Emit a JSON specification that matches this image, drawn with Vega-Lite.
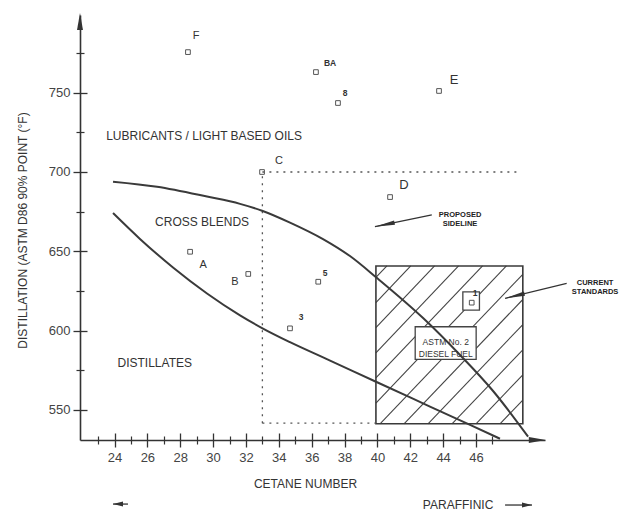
{
  "$schema": "https://vega.github.io/schema/vega-lite/v6.json",
  "width": 465,
  "height": 425,
  "autosize": "none",
  "padding": {"left": 80, "top": 15, "right": 76, "bottom": 72},
  "background": "white",
  "config": {
    "view": {"stroke": null},
    "font": "Liberation Sans",
    "axis": {"grid": false, "labelFont": "Liberation Sans", "titleFont": "Liberation Sans"},
    "text": {"font": "Liberation Sans", "color": "#333"}
  },
  "resolve": {"axis": {"x": "independent", "y": "independent"}},
  "datasets": {
    "hatch": [
      {"x": 39.91, "y": 633.5, "x2": 40.58, "y2": 640.75},
      {"x": 39.91, "y": 617.7, "x2": 42.03, "y2": 640.75},
      {"x": 39.91, "y": 601.8, "x2": 43.48, "y2": 640.75},
      {"x": 39.91, "y": 586.0, "x2": 44.94, "y2": 640.75},
      {"x": 39.91, "y": 570.1, "x2": 46.40, "y2": 640.75},
      {"x": 39.91, "y": 554.3, "x2": 47.85, "y2": 640.75},
      {"x": 40.16, "y": 541.2, "x2": 48.85, "y2": 635.5},
      {"x": 41.62, "y": 541.2, "x2": 48.85, "y2": 619.6},
      {"x": 43.08, "y": 541.2, "x2": 48.85, "y2": 603.8},
      {"x": 44.54, "y": 541.2, "x2": 48.85, "y2": 587.9},
      {"x": 46.00, "y": 541.2, "x2": 48.85, "y2": 572.1},
      {"x": 47.46, "y": 541.2, "x2": 48.85, "y2": 556.2}
    ],
    "boxes": [
      {"name": "standards", "x": 39.91, "x2": 48.85, "y": 541.2, "y2": 640.75},
      {"name": "astm", "x": 42.30, "x2": 46.01, "y": 581.9, "y2": 602.4},
      {"name": "fuel1", "x": 45.20, "x2": 46.21, "y": 612.9, "y2": 624.4}
    ],
    "guides": [
      {"x": 33, "y": 541.6, "x2": 33, "y2": 700},
      {"x": 33, "y": 700, "x2": 48.7, "y2": 700},
      {"x": 33, "y": 541.6, "x2": 39.9, "y2": 541.6}
    ],
    "curves": [
      {"curve": "upper", "x": 23.91, "y": 693.9},
      {"curve": "upper", "x": 26.59, "y": 690.7},
      {"curve": "upper", "x": 29.63, "y": 684.5},
      {"curve": "upper", "x": 31.64, "y": 679.9},
      {"curve": "upper", "x": 32.98, "y": 675.6},
      {"curve": "upper", "x": 34.68, "y": 668.1},
      {"curve": "upper", "x": 36.69, "y": 657.7},
      {"curve": "upper", "x": 38.33, "y": 647.0},
      {"curve": "upper", "x": 39.98, "y": 633.1},
      {"curve": "upper", "x": 42.78, "y": 607.9},
      {"curve": "upper", "x": 45.03, "y": 584.6},
      {"curve": "upper", "x": 47.04, "y": 561.9},
      {"curve": "upper", "x": 49.17, "y": 533.1},
      {"curve": "lower", "x": 23.91, "y": 674.1},
      {"curve": "lower", "x": 25.55, "y": 657.8},
      {"curve": "lower", "x": 27.56, "y": 639.8},
      {"curve": "lower", "x": 29.63, "y": 623.4},
      {"curve": "lower", "x": 31.64, "y": 609.6},
      {"curve": "lower", "x": 32.98, "y": 601.6},
      {"curve": "lower", "x": 34.68, "y": 592.7},
      {"curve": "lower", "x": 37.12, "y": 581.1},
      {"curve": "lower", "x": 39.98, "y": 567.4},
      {"curve": "lower", "x": 43.20, "y": 552.1},
      {"curve": "lower", "x": 45.64, "y": 540.5},
      {"curve": "lower", "x": 47.46, "y": 531.8}
    ],
    "arrows": [
      {"name": "yaxis", "x": 21.9, "y": 790, "x2": 21.9, "y2": 800.2},
      {"name": "xaxis", "x": 49.5, "y": 531, "x2": 50.25, "y2": 531},
      {"name": "proposed", "x": 43.31, "y": 672.9, "x2": 39.85, "y2": 665.5},
      {"name": "current", "x": 51.52, "y": 629.8, "x2": 47.77, "y2": 620.3},
      {"name": "left", "x": 24.82, "y": 490.6, "x2": 23.91, "y2": 490.6},
      {"name": "paraffinic", "x": 47.77, "y": 490.0, "x2": 49.41, "y2": 490.0}
    ],
    "points": [
      {"label": "F", "x": 28.47, "y": 775.6},
      {"label": "BA", "x": 36.26, "y": 763.0},
      {"label": "8", "x": 37.60, "y": 743.5},
      {"label": "E", "x": 43.75, "y": 751.1},
      {"label": "C", "x": 32.98, "y": 700.0},
      {"label": "D", "x": 40.77, "y": 684.2},
      {"label": "A", "x": 28.60, "y": 649.7},
      {"label": "B", "x": 32.14, "y": 635.7},
      {"label": "5", "x": 36.40, "y": 630.8},
      {"label": "3", "x": 34.68, "y": 601.4},
      {"label": "1", "x": 45.74, "y": 617.6}
    ],
    "pointLabels": [
      {"text": "F", "x": 28.96, "y": 785.7},
      {"text": "BA", "x": 37.12, "y": 768.7},
      {"text": "8", "x": 38.03, "y": 749.8},
      {"text": "E", "x": 44.66, "y": 758.0},
      {"text": "C", "x": 34.01, "y": 706.9},
      {"text": "D", "x": 41.62, "y": 691.8},
      {"text": "A", "x": 29.39, "y": 641.3},
      {"text": "B", "x": 31.33, "y": 630.6},
      {"text": "5", "x": 36.81, "y": 636.3},
      {"text": "3", "x": 35.35, "y": 608.6},
      {"text": "1", "x": 45.94, "y": 623.7}
    ],
    "regions": [
      {"text": "LUBRICANTS / LIGHT BASED OILS", "x": 29.45, "y": 722.7},
      {"text": "CROSS BLENDS", "x": 29.33, "y": 668.3},
      {"text": "DISTILLATES", "x": 26.45, "y": 579.4}
    ],
    "callouts": [
      {"text": "PROPOSED\nSIDELINE", "x": 45.03, "y": 673.1},
      {"text": "CURRENT\nSTANDARDS", "x": 53.25, "y": 630.1}
    ],
    "boxText": [
      {"text": "ASTM No. 2\nDIESEL FUEL", "x": 44.16, "y": 592.7}
    ],
    "bottomText": [
      {"text": "PARAFFINIC", "x": 44.91, "y": 490.0}
    ]
  },
  "layer": [
    {
      "data": {"name": "hatch"},
      "mark": {"type": "rule", "color": "#444", "strokeWidth": 1.1},
      "encoding": {
        "x": {"field": "x", "type": "quantitative", "scale": {"domain": [21.9, 50.2], "nice": false, "zero": false},
              "axis": {"orient": "bottom", "values": [24, 26, 28, 30, 32, 34, 36, 38, 40, 42, 44, 46], "tickSize": -7, "tickColor": "#333", "tickWidth": 1.3, "labels": false, "domain": false, "title": null}},
        "y": {"field": "y", "type": "quantitative", "scale": {"domain": [531, 799], "nice": false, "zero": false},
              "axis": {"orient": "left", "values": [550, 600, 650, 700, 750], "tickSize": -7, "tickColor": "#333", "tickWidth": 1.3, "labels": false, "domain": false, "title": null}},
        "x2": {"field": "x2"},
        "y2": {"field": "y2"}
      }
    },
    {
      "data": {"name": "boxes"},
      "transform": [{"filter": "datum.name !== 'standards'"}],
      "mark": {"type": "rect", "fill": "white", "stroke": "#444", "strokeWidth": 1.3},
      "encoding": {
        "x": {"field": "x", "type": "quantitative", "axis": null},
        "y": {"field": "y", "type": "quantitative", "axis": null},
        "x2": {"field": "x2"},
        "y2": {"field": "y2"}
      }
    },
    {
      "data": {"name": "boxes"},
      "transform": [{"filter": "datum.name === 'standards'"}],
      "mark": {"type": "rect", "fillOpacity": 0, "stroke": "#3a3a3a", "strokeWidth": 1.6},
      "encoding": {
        "x": {"field": "x", "type": "quantitative",
              "axis": {"orient": "bottom", "values": [24, 26, 28, 30, 32, 34, 36, 38, 40, 42, 44, 46], "tickSize": 7, "tickColor": "#333", "tickWidth": 1.3, "domainColor": "#333", "domainWidth": 1.6, "labelFontSize": 13, "labelColor": "#444", "labelPadding": 4, "labelFlush": false, "title": "CETANE NUMBER", "titleFontSize": 12, "titleFontWeight": "normal", "titleColor": "#333", "titleX": 225, "titleY": 43, "titleBaseline": "middle", "titleAlign": "center"}},
        "y": {"field": "y", "type": "quantitative",
              "axis": {"orient": "left", "values": [550, 600, 650, 700, 750], "tickSize": 7, "tickColor": "#333", "tickWidth": 1.3, "domainColor": "#333", "domainWidth": 1.6, "labelFontSize": 13, "labelColor": "#444", "labelPadding": 3, "labelFlush": false, "title": "DISTILLATION (ASTM D86 90% POINT (°F)", "titleFontSize": 12, "titleFontWeight": "normal", "titleColor": "#333", "titleX": -58, "titleY": 215, "titleAngle": -90, "titleAlign": "center", "titleBaseline": "middle"}},
        "x2": {"field": "x2"},
        "y2": {"field": "y2"}
      }
    },
    {
      "data": {"name": "guides"},
      "mark": {"type": "rule", "color": "#555", "strokeWidth": 1.3, "strokeDash": [2, 5]},
      "encoding": {
        "x": {"field": "x", "type": "quantitative",
              "axis": {"orient": "bottom", "values": [23, 25, 27, 29, 31, 33, 35, 37, 39, 41, 43, 45, 47], "tickSize": -4, "tickColor": "#333", "tickWidth": 1.2, "labels": false, "domain": false, "title": null}},
        "y": {"field": "y", "type": "quantitative",
              "axis": {"orient": "left", "values": [575, 625, 675, 725, 775], "tickSize": -4, "tickColor": "#333", "tickWidth": 1.2, "labels": false, "domain": false, "title": null}},
        "x2": {"field": "x2"},
        "y2": {"field": "y2"}
      }
    },
    {
      "data": {"name": "curves"},
      "mark": {"type": "line", "color": "#3a3a3a", "strokeWidth": 2, "interpolate": "monotone"},
      "encoding": {
        "x": {"field": "x", "type": "quantitative",
              "axis": {"orient": "bottom", "values": [23, 25, 27, 29, 31, 33, 35, 37, 39, 41, 43, 45, 47], "tickSize": 4, "tickColor": "#333", "tickWidth": 1.2, "labels": false, "domain": false, "title": null}},
        "y": {"field": "y", "type": "quantitative",
              "axis": {"orient": "left", "values": [575, 625, 675, 725, 775], "tickSize": 4, "tickColor": "#333", "tickWidth": 1.2, "labels": false, "domain": false, "title": null}},
        "detail": {"field": "curve"}
      }
    },
    {
      "data": {"name": "arrows"},
      "transform": [{"filter": "datum.name !== 'yaxis' && datum.name !== 'xaxis'"}],
      "mark": {"type": "rule", "color": "#333", "strokeWidth": 1.3},
      "encoding": {
        "x": {"field": "x", "type": "quantitative", "axis": null},
        "y": {"field": "y", "type": "quantitative", "axis": null},
        "x2": {"field": "x2"},
        "y2": {"field": "y2"}
      }
    },
    {
      "data": {"name": "arrows"},
      "transform": [{"filter": "datum.name === 'yaxis'"}],
      "mark": {"type": "point", "shape": "M0,0L-2,-0.35L-2,0.35Z", "size": 289, "angle": 270, "filled": true, "color": "#333", "opacity": 1},
      "encoding": {
        "x": {"field": "x2", "type": "quantitative", "axis": null},
        "y": {"field": "y2", "type": "quantitative", "axis": null}
      }
    },
    {
      "data": {"name": "arrows"},
      "transform": [{"filter": "datum.name === 'xaxis'"}],
      "mark": {"type": "point", "shape": "M0,0L-2,-0.35L-2,0.35Z", "size": 289, "angle": 0, "filled": true, "color": "#333", "opacity": 1},
      "encoding": {
        "x": {"field": "x2", "type": "quantitative", "axis": null},
        "y": {"field": "y2", "type": "quantitative", "axis": null}
      }
    },
    {
      "data": {"name": "arrows"},
      "transform": [{"filter": "datum.name === 'proposed'"}],
      "mark": {"type": "point", "shape": "M0,0L-2,-0.22L-2,0.22Z", "size": 400, "angle": 168.3, "filled": true, "color": "#333", "opacity": 1},
      "encoding": {
        "x": {"field": "x2", "type": "quantitative", "axis": null},
        "y": {"field": "y2", "type": "quantitative", "axis": null}
      }
    },
    {
      "data": {"name": "arrows"},
      "transform": [{"filter": "datum.name === 'current'"}],
      "mark": {"type": "point", "shape": "M0,0L-2,-0.22L-2,0.22Z", "size": 400, "angle": 166.3, "filled": true, "color": "#333", "opacity": 1},
      "encoding": {
        "x": {"field": "x2", "type": "quantitative", "axis": null},
        "y": {"field": "y2", "type": "quantitative", "axis": null}
      }
    },
    {
      "data": {"name": "arrows"},
      "transform": [{"filter": "datum.name === 'left'"}],
      "mark": {"type": "point", "shape": "M0,0L-2,-0.5L-2,0.5Z", "size": 100, "angle": 180, "filled": true, "color": "#333", "opacity": 1},
      "encoding": {
        "x": {"field": "x2", "type": "quantitative", "axis": null},
        "y": {"field": "y2", "type": "quantitative", "axis": null}
      }
    },
    {
      "data": {"name": "arrows"},
      "transform": [{"filter": "datum.name === 'paraffinic'"}],
      "mark": {"type": "point", "shape": "M0,0L-2,-0.5L-2,0.5Z", "size": 100, "angle": 0, "filled": true, "color": "#333", "opacity": 1},
      "encoding": {
        "x": {"field": "x2", "type": "quantitative", "axis": null},
        "y": {"field": "y2", "type": "quantitative", "axis": null}
      }
    },
    {
      "data": {"name": "points"},
      "mark": {"type": "point", "shape": "square", "size": 22, "filled": false, "color": "#555", "strokeWidth": 1, "opacity": 1},
      "encoding": {
        "x": {"field": "x", "type": "quantitative", "axis": null},
        "y": {"field": "y", "type": "quantitative", "axis": null}
      }
    },
    {
      "data": {"name": "pointLabels"},
      "transform": [{"filter": "indexof(['E', 'D'], datum.text) >= 0"}],
      "mark": {"type": "text", "fontSize": 13, "align": "center", "baseline": "middle", "color": "#333"},
      "encoding": {
        "x": {"field": "x", "type": "quantitative", "axis": null},
        "y": {"field": "y", "type": "quantitative", "axis": null},
        "text": {"field": "text"}
      }
    },
    {
      "data": {"name": "pointLabels"},
      "transform": [{"filter": "indexof(['C', 'F', 'A', 'B'], datum.text) >= 0"}],
      "mark": {"type": "text", "fontSize": 11, "align": "center", "baseline": "middle", "color": "#333"},
      "encoding": {
        "x": {"field": "x", "type": "quantitative", "axis": null},
        "y": {"field": "y", "type": "quantitative", "axis": null},
        "text": {"field": "text"}
      }
    },
    {
      "data": {"name": "pointLabels"},
      "transform": [{"filter": "indexof(['BA', '8', '5', '3', '1'], datum.text) >= 0"}],
      "mark": {"type": "text", "fontSize": 8.5, "fontWeight": "bold", "align": "center", "baseline": "middle", "color": "#333"},
      "encoding": {
        "x": {"field": "x", "type": "quantitative", "axis": null},
        "y": {"field": "y", "type": "quantitative", "axis": null},
        "text": {"field": "text"}
      }
    },
    {
      "data": {"name": "regions"},
      "mark": {"type": "text", "fontSize": 12, "align": "center", "baseline": "middle", "color": "#333"},
      "encoding": {
        "x": {"field": "x", "type": "quantitative", "axis": null},
        "y": {"field": "y", "type": "quantitative", "axis": null},
        "text": {"field": "text"}
      }
    },
    {
      "data": {"name": "callouts"},
      "mark": {"type": "text", "fontSize": 7.5, "fontWeight": "bold", "align": "center", "baseline": "middle", "lineBreak": "\n", "lineHeight": 9, "color": "#222"},
      "encoding": {
        "x": {"field": "x", "type": "quantitative", "axis": null},
        "y": {"field": "y", "type": "quantitative", "axis": null},
        "text": {"field": "text"}
      }
    },
    {
      "data": {"name": "boxText"},
      "mark": {"type": "text", "fontSize": 8.5, "align": "center", "baseline": "middle", "lineBreak": "\n", "lineHeight": 12, "color": "#333"},
      "encoding": {
        "x": {"field": "x", "type": "quantitative", "axis": null},
        "y": {"field": "y", "type": "quantitative", "axis": null},
        "text": {"field": "text"}
      }
    },
    {
      "data": {"name": "bottomText"},
      "mark": {"type": "text", "fontSize": 12, "align": "center", "baseline": "middle", "color": "#333"},
      "encoding": {
        "x": {"field": "x", "type": "quantitative", "axis": null},
        "y": {"field": "y", "type": "quantitative", "axis": null},
        "text": {"field": "text"}
      }
    }
  ]
}
